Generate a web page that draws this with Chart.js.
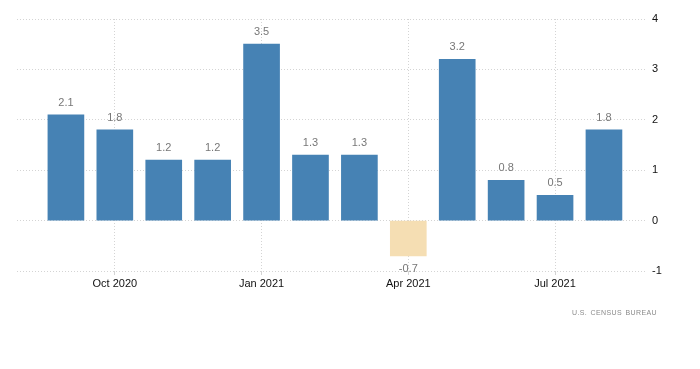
<!DOCTYPE html>
<html>
<head>
<meta charset="utf-8">
<script src="https://cdn.jsdelivr.net/npm/chart.js@4/dist/chart.umd.min.js"></script>
<style>
  html, body { margin: 0; padding: 0; background: #fff; }
  #wrap { position: relative; width: 700px; height: 369px; }
  #src { position: absolute; right: 43px; top: 309px; line-height: 8px; font: 7px "Liberation Sans", Arial, sans-serif; letter-spacing: 0.4px; word-spacing: 1px; color: #8a8a8a; }
</style>
</head>
<body>
<div id="wrap">
  <canvas id="c" width="700" height="369"></canvas>
  <div id="src">U.S. CENSUS BUREAU</div>
</div>
<script>
const months = ["Sep 2020","Oct 2020","Nov 2020","Dec 2020","Jan 2021","Feb 2021","Mar 2021","Apr 2021","May 2021","Jun 2021","Jul 2021","Aug 2021"];
const values = [2.1, 1.8, 1.2, 1.2, 3.5, 1.3, 1.3, -0.7, 3.2, 0.8, 0.5, 1.8];
const xTickIndex = [1, 4, 7, 10];
const yTicks = [-1, 0, 1, 2, 3, 4];

const labelPlugin = {
  id: 'valueLabels',
  afterDatasetsDraw(chart) {
    const ctx = chart.ctx;
    const meta = chart.getDatasetMeta(0);
    ctx.save();
    ctx.font = '11px "Liberation Sans", Arial, sans-serif';
    ctx.fillStyle = '#777';
    ctx.textAlign = 'center';
    ctx.textBaseline = 'middle';
    meta.data.forEach((bar, i) => {
      const v = values[i];
      const y = v >= 0 ? bar.y - 12 : bar.y + 13;
      ctx.fillText(v.toFixed(1), bar.x, y);
    });
    ctx.restore();
  }
};

new Chart(document.getElementById('c'), {
  type: 'bar',
  data: {
    datasets: [{
      data: values.map((v, i) => ({ x: i, y: v })),
      backgroundColor: values.map(v => v >= 0 ? '#4682B4' : '#F5DEB3'),
      borderWidth: 0,
      barThickness: 36
    }]
  },
  options: {
    responsive: false,
    animation: false,
    layout: { padding: { left: 17, top: 19, right: 0, bottom: 0 } },
    plugins: { legend: { display: false }, tooltip: { enabled: false } },
    scales: {
      x: {
        type: 'linear',
        offset: false,
        min: -1.0,
        max: 11.88,
        afterBuildTicks: s => { s.ticks = xTickIndex.map(v => ({ value: v })); },
        afterFit: s => { s.height = 98; },
        ticks: {
          callback: v => months[v],
          color: '#111',
          font: { family: '"Liberation Sans", Arial, sans-serif', size: 11 },
          padding: 2,
          maxRotation: 0,
          autoSkip: false
        },
        grid: {
          offset: false,
          color: '#d4d4d4',
          lineWidth: 1,
          tickLength: 4,
          drawTicks: true,
          tickColor: '#d4d4d4'
        },
        border: { display: false, dash: [1, 2] }
      },
      y: {
        position: 'right',
        min: -1,
        max: 4,
        afterBuildTicks: s => { s.ticks = yTicks.map(v => ({ value: v })); },
        afterFit: s => { s.width = 53; },
        ticks: {
          color: '#111',
          font: { family: '"Liberation Sans", Arial, sans-serif', size: 11 },
          padding: 5
        },
        grid: { color: '#d4d4d4', drawTicks: false },
        border: { display: false, dash: [1, 2] }
      }
    }
  },
  plugins: [labelPlugin]
});
</script>
</body>
</html>
